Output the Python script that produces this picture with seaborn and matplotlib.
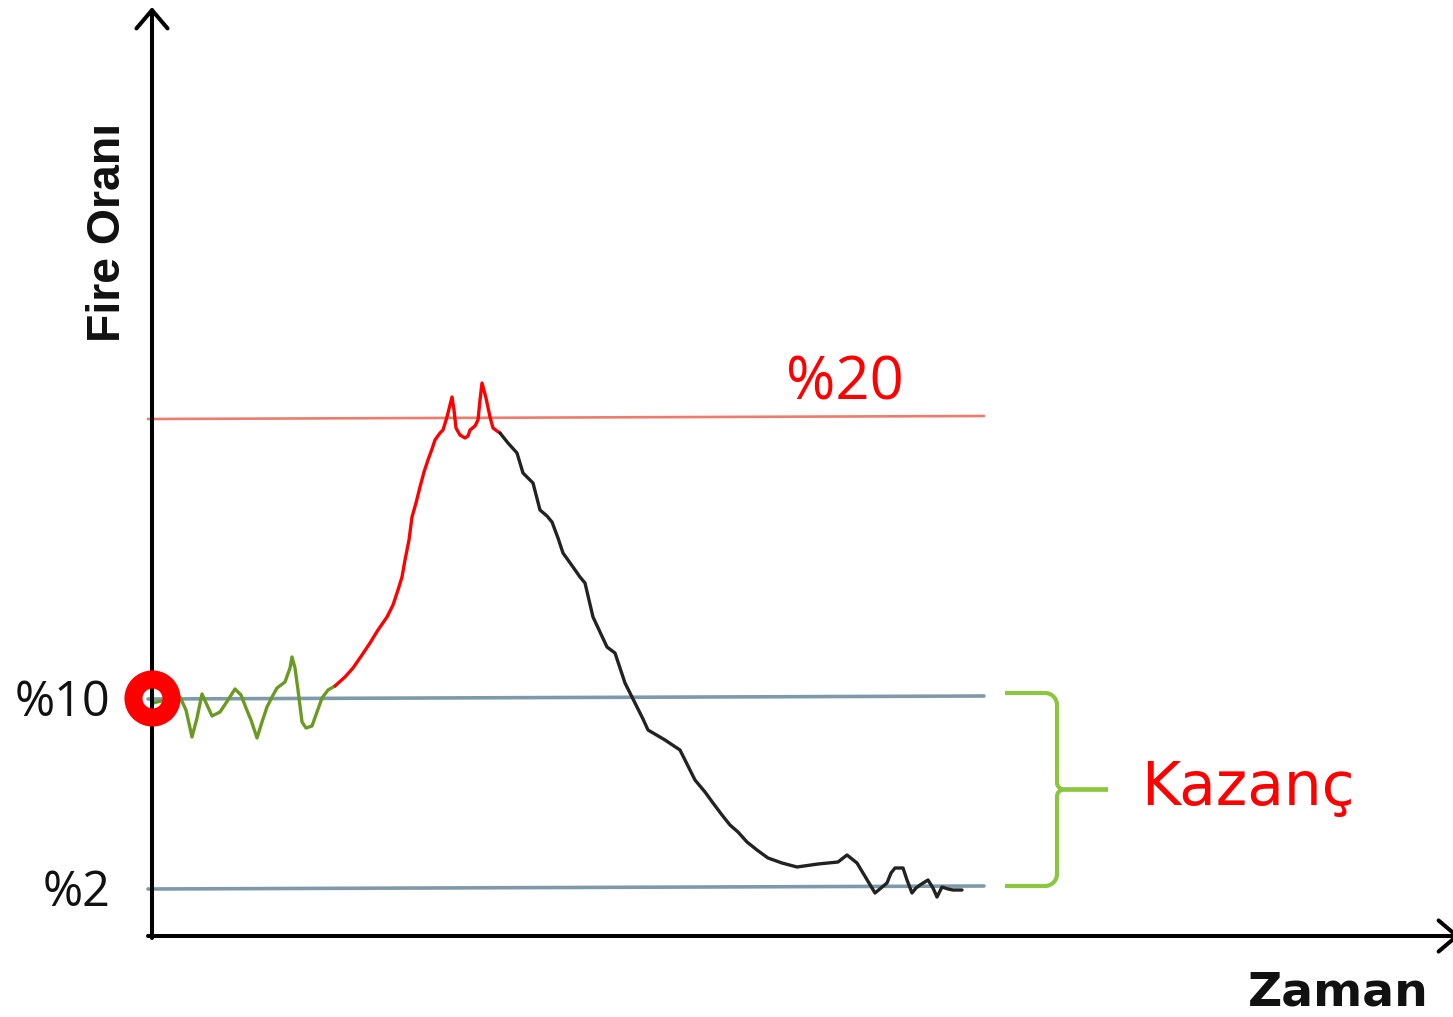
import numpy as np
import pandas as pd
import matplotlib
matplotlib.use("Agg")
import matplotlib.pyplot as plt
import seaborn as sns

# schematic units: 1 unit ~ 10 px of the original picture
# loss-rate curve, split by phase (green = start, red = rising, black = falling)
green_x = [0.1, 1.3, 2.0, 2.8, 3.4, 4.0, 4.5, 5.0, 5.5, 6.0, 6.8, 7.6, 8.3, 8.9, 9.4, 9.9, 10.5,
           11.0, 11.5, 12.0, 12.5, 13.3, 13.8, 14.0, 14.3, 14.6, 15.0, 15.4, 16.0, 16.5, 17.0, 17.6, 18.3]
green_y = [23.3, 23.6, 24.0, 23.9, 22.6, 19.9, 21.8, 24.2, 23.1, 22.0, 22.4, 23.6, 24.7, 24.1, 22.8, 21.6, 19.8,
           21.4, 22.9, 23.9, 24.8, 25.4, 26.8, 27.9, 26.8, 24.6, 21.4, 20.8, 21.0, 22.4, 23.8, 24.6, 25.0]

red_x = [18.3, 19.3, 20.1, 21.0, 21.8, 22.6, 23.5, 24.1, 24.6, 25.0, 25.3, 25.7, 26.0, 26.4, 26.8, 27.2, 27.6,
         28.0, 28.3, 28.8, 29.1, 29.5, 30.0, 30.2, 30.4, 30.8, 31.3, 31.6, 31.8, 32.3, 32.6, 32.8, 33.0, 33.4,
         33.8, 34.1, 34.5, 34.8]
red_y = [25.0, 25.9, 26.8, 28.1, 29.3, 30.6, 31.9, 33.1, 34.6, 35.9, 37.6, 39.6, 41.9, 43.3, 44.9, 46.4, 47.6,
         48.7, 49.6, 50.3, 50.6, 51.9, 53.9, 52.6, 50.8, 50.1, 49.8, 50.0, 50.6, 51.0, 51.6, 53.6, 55.3, 53.8,
         51.9, 50.8, 50.5, 50.3]

black_x = [34.8, 35.6, 36.5, 37.1, 38.1, 38.8, 39.5, 40.0, 40.6, 41.1, 42.1, 42.8, 43.3, 43.7, 44.1, 44.8,
           45.5, 46.3, 46.8, 47.3, 47.9, 48.5, 49.1, 49.6, 51.3, 52.8, 53.3, 54.3, 55.3, 56.1, 57.0, 57.8,
           58.6, 59.5, 60.5, 61.6, 63.0, 64.5, 66.6, 68.6, 69.5, 70.5, 71.4, 72.3, 72.9, 73.5, 73.9, 74.3,
           75.1, 75.5, 76.0, 76.4, 76.8, 77.6, 78.1, 78.5, 79.0, 79.6, 80.1, 81.0]
black_y = [50.3, 49.3, 48.3, 46.3, 45.3, 42.6, 42.0, 41.4, 39.8, 38.3, 36.9, 35.9, 35.3, 33.6, 31.9, 30.4,
           28.9, 28.3, 26.8, 25.3, 24.1, 22.9, 21.7, 20.6, 19.6, 18.6, 17.6, 15.6, 14.4, 13.3, 12.1, 11.1,
           10.4, 9.4, 8.6, 7.8, 7.3, 6.9, 7.2, 7.4, 8.1, 7.3, 5.8, 4.3, 4.8, 5.3, 6.3, 6.8, 6.8, 5.6,
           4.3, 4.8, 5.1, 5.6, 4.8, 3.9, 4.9, 4.7, 4.6, 4.6]

# reference levels (left end, right end - the lines are very slightly tilted)
ref_x = [-0.4, 83.2]
lvl20 = [51.7, 52.0]
lvl10 = [23.7, 24.0]
lvl2 = [4.7, 5.0]
tick_labels = ["%2", "%10"]

sns.set_style("white")
plt.rcParams['font.family'] = ['DejaVu Sans']

fig = plt.figure(figsize=(14.53, 10.17), dpi=100)
ax = fig.add_axes([0, 0, 1, 1])
ax.set_xlim(-15.2, 130.1)
ax.set_ylim(-8.1, 93.6)

# horizontal reference lines
sns.lineplot(x=ref_x, y=lvl20, color="#ee7b6b", lw=1.9, ax=ax, zorder=2)
sns.lineplot(x=ref_x, y=lvl10, color="#7e9aaa", lw=2.6, ax=ax, zorder=2)
sns.lineplot(x=ref_x, y=lvl2, color="#7e9aaa", lw=2.6, ax=ax, zorder=2)

# the curve
sns.lineplot(x=green_x, y=green_y, color="#6b9a22", lw=2.4, sort=False, ax=ax, zorder=3)
sns.lineplot(x=red_x, y=red_y, color="#ff0000", lw=2.4, sort=False, ax=ax, zorder=3)
sns.lineplot(x=black_x, y=black_y, color="#222222", lw=2.4, sort=False, ax=ax, zorder=3)

# axes arrows
ax.annotate("", xy=(0, 92.9), xytext=(0, -0.2), annotation_clip=False,
            arrowprops=dict(arrowstyle="->,head_length=0.33,head_width=0.28", lw=2.9,
                            color="black", mutation_scale=40, shrinkA=0, shrinkB=0))
ax.annotate("", xy=(130.8, 0), xytext=(-0.4, 0), annotation_clip=False,
            arrowprops=dict(arrowstyle="->,head_length=0.33,head_width=0.28", lw=2.9,
                            color="black", mutation_scale=40, shrinkA=0, shrinkB=0))

# start marker
ax.plot([0], [np.mean(lvl10)], marker="o", markersize=27.4, markerfacecolor="none",
        markeredgecolor="#ff0000", markeredgewidth=13, zorder=5)

# brace for the gain between %10 and %2
def brace(x0, xm, x1, top, bot, r=1.2, rc=0.7):
    mid = (top + bot) / 2
    pts = [(x0, top), (xm - r, top)]
    a = np.linspace(np.pi / 2, 0, 12)
    pts += list(zip(xm - r + r * np.cos(a), top - r + r * np.sin(a)))
    a = np.linspace(np.pi, 1.5 * np.pi, 12)
    pts += list(zip(xm + rc + rc * np.cos(a), mid + rc + rc * np.sin(a)))
    pts += [(x1, mid)]
    seg1 = np.array(pts)
    pts = [(x1, mid)]
    a = np.linspace(0.5 * np.pi, np.pi, 12)
    pts += list(zip(xm + rc + rc * np.cos(a), mid - rc + rc * np.sin(a)))
    a = np.linspace(0, -np.pi / 2, 12)
    pts += list(zip(xm - r + r * np.cos(a), bot + r + r * np.sin(a)))
    pts += [(x0, bot)]
    seg2 = np.array(pts)
    return seg1, seg2

for seg in brace(85.3, 90.5, 95.6, 24.3, 5.0):
    ax.plot(seg[:, 0], seg[:, 1], color="#8cc63f", lw=3.0, solid_capstyle="butt", zorder=3)

# texts
ax.text(69.3, 53.6, "%20", color="#ff0000", fontsize=43, family=["Open Sans", "DejaVu Sans"],
        ha="center", va="baseline")
ax.text(98.9, 13.1, "Kazanç", color="#ff0000", fontsize=43, ha="left", va="baseline")
ax.text(118.6, -7.0, "Zaman", color="#111111", fontsize=34, fontweight="bold",
        ha="center", va="baseline")
ax.text(0.0743, 0.771, "Fire Oranı", transform=ax.transAxes, rotation=90, color="#111111",
        fontsize=33.4, fontweight="bold", family=["Liberation Sans", "DejaVu Sans"],
        ha="center", va="center")

# tick labels for the two levels
ax.spines['left'].set_position(('data', 0))
for s in ax.spines.values():
    s.set_visible(False)
ax.set_xticks([])
ax.set_yticks([np.mean(lvl2), np.mean(lvl10)], tick_labels)
ax.tick_params(axis="y", length=0, pad=30, labelsize=35, labelcolor="#111111")
for lbl in ax.get_yticklabels():
    lbl.set_fontfamily(["Open Sans", "DejaVu Sans"])
ax.set_xlabel("")
ax.set_ylabel("")

fig.savefig("out.png", dpi=100)
